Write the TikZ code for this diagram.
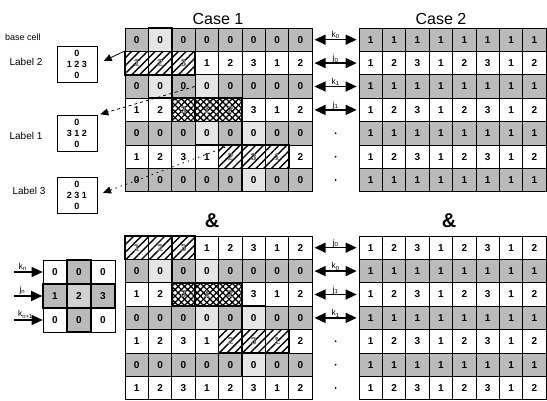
\documentclass[tikz,border=0pt]{standalone}
\usepackage{fontspec}
\setmainfont{Liberation Sans}
\usetikzlibrary{arrows.meta,patterns.meta,calc}
\tikzstyle{cell}=[rectangle,draw,line width=0.7pt,minimum width=23.4pt,minimum height=23.4pt,inner sep=0pt,font=\fontsize{10}{10}\selectfont\bfseries]
\tikzstyle{grey}=[cell,fill=black!27]
\tikzstyle{lite}=[cell,fill=black!10,line width=1.4pt]
\tikzstyle{hatch}=[cell,line width=1.6pt,text=black!45,pattern={Lines[angle=45,distance=5.5pt,line width=1.4pt]}]
\tikzstyle{xhatch}=[cell,line width=1.6pt,text=black!45,pattern={Hatch[angle=45,distance=4.5pt,line width=1.3pt]}]
\tikzstyle{lblbox}=[rectangle,draw,thick,minimum width=40pt,minimum height=36pt,align=center,inner sep=1pt,font=\fontsize{9}{11}\selectfont\bfseries]
\tikzstyle{txt}=[inner sep=0pt,font=\fontsize{10}{10}\selectfont]
\tikzstyle{idx}=[inner sep=1pt,font=\fontsize{8.5}{8.5}\selectfont]
\tikzstyle{link}=[line width=1.4pt,{Triangle[length=11pt,width=10pt]}-{Triangle[length=11pt,width=10pt]},shorten <=2pt,shorten >=2pt]
\tikzstyle{feed}=[line width=1.4pt,-{Triangle[length=11pt,width=10pt]}]
\tikzstyle{ptr}=[thick,-{Triangle[length=8pt,width=7pt]}]

\begin{document}
\begin{tikzpicture}[x=1pt,y=1pt]
    \useasboundingbox (0,0) rectangle (547,-401);

    % the four grids: name / left / top / grey digit / row parity
    \foreach \g/\gx/\gy/\z/\p in {a/125/28/0/0, b/359/28/1/0, c/125/236/0/1, d/359/236/1/1}
      \foreach \r in {0,...,6}
        \foreach \c in {0,...,7} {
          \pgfmathtruncatemacro\v{mod(\c,3)+1}
          \pgfmathtruncatemacro\odd{mod(\r+\p,2)}
          \ifnum\odd=1
            \node[cell] (\g-\r-\c) at (\gx+23.4*\c+11.7, -\gy-23.4*\r-11.7) {\v};
          \else
            \node[grey] (\g-\r-\c) at (\gx+23.4*\c+11.7, -\gy-23.4*\r-11.7) {\z};
          \fi
        }

    % neighbours above and below the centre cell
    \foreach \n in {a-0-1, a-2-1, a-2-3, a-4-3, a-4-5, a-6-5, c-1-1, c-1-3, c-3-3, c-3-5, c-5-5}
        \node[lite] (h\n) at (\n) {0};
    % the three labelled runs
    \foreach \n/\s/\v in {a-1-0/hatch/1, a-1-1/hatch/2, a-1-2/hatch/3,
                          a-3-2/xhatch/3, a-3-3/xhatch/1, a-3-4/xhatch/2,
                          a-5-4/hatch/2, a-5-5/hatch/3, a-5-6/hatch/1,
                          c-0-0/hatch/1, c-0-1/hatch/2, c-0-2/hatch/3,
                          c-2-2/xhatch/3, c-2-3/xhatch/1, c-2-4/xhatch/2,
                          c-4-4/hatch/2, c-4-5/hatch/3, c-4-6/hatch/1}
        \node[\s] (h\n) at (\n) {\v};

    % row indices between the cases
    \foreach \r/\t in {0/{k\textsubscript{0}}, 1/{j\textsubscript{0}}, 2/{k\textsubscript{1}}, 3/{j\textsubscript{1}}}
        \draw[link] (a-\r-7) -- node[above=-1pt,idx] {\t} (b-\r-0);
    \foreach \r/\t in {0/{j\textsubscript{0}}, 1/{k\textsubscript{0}}, 2/{j\textsubscript{1}}, 3/{k\textsubscript{1}}}
        \draw[link] (c-\r-7) -- node[above=-1pt,idx] {\t} (d-\r-0);
    \foreach \r in {4,5,6} {
        \fill ($(a-\r-7)!0.5!(b-\r-0)$) circle (1pt);
        \fill ($(c-\r-7)!0.5!(d-\r-0)$) circle (1pt);
    }

    \node[font=\fontsize{16}{16}\selectfont] (case1) at (218,-19) {Case 1};
    \node[font=\fontsize{16}{16}\selectfont] (case2) at (441,-19) {Case 2};
    \node[font=\fontsize{20}{20}\selectfont\bfseries] (amp1) at (212,-221) {\&};
    \node[font=\fontsize{20}{20}\selectfont\bfseries] (amp2) at (449,-221) {\&};

    % base cells
    \node[txt,font=\fontsize{9}{9}\selectfont] (base) at (23,-37) {base cell};
    \node[lblbox] (l2) at (77,-64) {0\\1 2 3\\0};
    \node[lblbox] (l1) at (77,-133.5) {0\\3 1 2\\0};
    \node[lblbox] (l3) at (77,-195) {0\\2 3 1\\0};
    \node[txt] (t2) at (26,-62) {Label 2};
    \node[txt] (t1) at (26,-136) {Label 1};
    \node[txt] (t3) at (29,-191) {Label 3};

    \draw[ptr,shorten >=7pt] (a-1-0.north west) -- (l2.east);
    \draw[ptr,dashed,shorten >=3pt] (a-2-3.west) -- (l1.north east);
    \draw[ptr,thick,dash pattern=on 1.5pt off 4pt,shorten >=6pt] (a-4-4.south) -- (l3.east);

    % stencil
    \foreach \pos/\name in {{(55,-272)/x-0-0}, {(103,-272)/x-0-2}, {(55,-320)/x-2-0}, {(103,-320)/x-2-2}}
        \node[cell,minimum size=24pt] (\name) at \pos {0};
    \foreach \pos/\name/\v in {{(79,-272)/x-0-1/0}, {(55,-296)/x-1-0/1}, {(103,-296)/x-1-2/3}, {(79,-320)/x-2-1/0}}
        \node[grey,minimum size=24pt,line width=1.6pt] (\name) at \pos {\v};
    \node[cell,minimum size=24pt,line width=1.6pt,fill=black!18] (x-1-1) at (79,-296) {2};

    \coordinate (kn) at (14,-272);
    \coordinate (jn) at (14,-296);
    \coordinate (kn1) at (14,-320);
    \draw[feed] (kn) -- node[pos=0.3,above,idx] {k\textsubscript{n}} (x-0-0);
    \draw[feed] (jn) -- node[pos=0.3,above,idx] {j\textsubscript{n}} (x-1-0);
    \draw[feed] (kn1) -- node[pos=0.4,above,idx] {k\textsubscript{n+1}} (x-2-0);

\end{tikzpicture}
\end{document}
